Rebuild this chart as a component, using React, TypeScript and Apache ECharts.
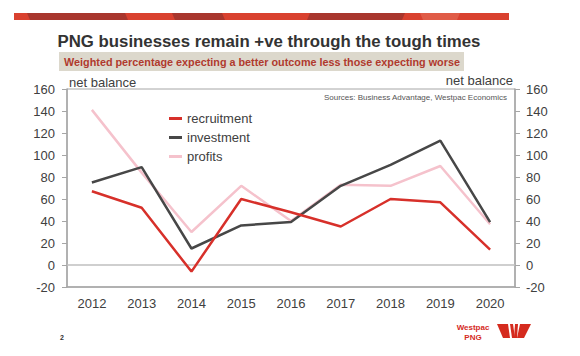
import React, { useEffect, useRef } from "react";
import * as echarts from "echarts";

const years = ["2012", "2013", "2014", "2015", "2016", "2017", "2018", "2019", "2020"];
const recruitment = [67, 52, -6, 60, 48, 35, 60, 57, 14];
const investment = [75, 89, 15, 36, 39, 72, 91, 113, 39];
const profits = [141, 84, 30, 72, 40, 73, 72, 90, 37];

const FONT = "'Liberation Sans', Arial, sans-serif";

export default function App() {
  const ref = useRef<HTMLDivElement>(null);
  useEffect(() => {
    if (!ref.current) return;
    const chart = echarts.init(ref.current, null, { renderer: "svg" });
    const axisLabel = { color: "#404040", fontSize: 13, fontFamily: FONT };
    const yBase = {
      type: "value",
      min: -20,
      max: 160,
      interval: 20,
      splitLine: { show: false },
      axisLine: { show: true, lineStyle: { color: "#a6a6a6", width: 1.5 } },
      axisTick: { show: true, length: 5, lineStyle: { color: "#a6a6a6" } },
    };
    chart.setOption({
      animation: false,
      backgroundColor: "#ffffff",
      textStyle: { fontFamily: FONT },
      grid: {
        left: 67,
        right: 65,
        top: 89,
        bottom: 69,
        show: true,
        borderColor: "#a6a6a6",
        borderWidth: 1,
      },
      legend: {
        orient: "vertical",
        left: 164,
        top: 107,
        itemWidth: 13,
        itemHeight: 3,
        itemGap: 6,
        icon: "rect",
        textStyle: { color: "#404040", fontSize: 13, fontFamily: FONT },
        data: ["recruitment", "investment", "profits"],
      },
      xAxis: {
        type: "category",
        data: years,
        boundaryGap: true,
        axisLine: { show: true, onZero: false, lineStyle: { color: "#a6a6a6", width: 1.5 } },
        axisTick: { show: false },
        axisLabel: { ...axisLabel, margin: 10 },
      },
      yAxis: [
        { ...yBase, position: "left", axisLabel: { ...axisLabel, margin: 12 } },
        { ...yBase, position: "right", axisLabel: { ...axisLabel, margin: 11 } },
      ],
      graphic: [
        { type: "rect", shape: { x: 14, y: 13, width: 495, height: 7 }, style: { fill: "#d9412f" } },
        { type: "polygon", shape: { points: [[27, 13], [125, 13], [128, 20], [30, 20]] }, style: { fill: "#a8362d" } },
        { type: "polygon", shape: { points: [[172, 13], [222, 13], [225, 20], [175, 20]] }, style: { fill: "#a8362d" } },
        { type: "polygon", shape: { points: [[310, 13], [405, 13], [402, 20], [307, 20]] }, style: { fill: "#a8362d" } },
        { type: "polygon", shape: { points: [[420, 13], [460, 13], [457, 20], [423, 20]] }, style: { fill: "#e05c47" } },
        {
          type: "text",
          x: 269,
          y: 41,
          style: {
            text: "PNG businesses remain +ve through the tough times",
            fill: "#333333",
            font: `bold 16.8px ${FONT}`,
            align: "center",
            verticalAlign: "middle",
          },
        },
        { type: "rect", shape: { x: 59, y: 52, width: 405, height: 19 }, style: { fill: "#dcd8cc" } },
        {
          type: "text",
          x: 262,
          y: 61.5,
          style: {
            text: "Weighted percentage expecting a better outcome less those expecting worse",
            fill: "#b03a2e",
            font: `bold 10.8px ${FONT}`,
            align: "center",
            verticalAlign: "middle",
          },
        },
        { type: "text", x: 69, y: 82, style: { text: "net balance", fill: "#404040", font: `13px ${FONT}`, verticalAlign: "middle" } },
        { type: "text", x: 513, y: 80, style: { text: "net balance", fill: "#404040", font: `13px ${FONT}`, align: "right", verticalAlign: "middle" } },
        {
          type: "text",
          x: 507,
          y: 97,
          style: { text: "Sources: Business Advantage, Westpac Economics", fill: "#555555", font: `8px ${FONT}`, align: "right", verticalAlign: "middle" },
        },
        { type: "text", x: 60, y: 337, style: { text: "2", fill: "#333333", font: `bold 7px ${FONT}`, verticalAlign: "middle" } },
        { type: "text", x: 473, y: 327, style: { text: "Westpac", fill: "#d52b1e", font: `bold 8px ${FONT}`, align: "center", verticalAlign: "middle" } },
        { type: "text", x: 473, y: 337, style: { text: "PNG", fill: "#d52b1e", font: `bold 8px ${FONT}`, align: "center", verticalAlign: "middle" } },
        { type: "polygon", shape: { points: [[497, 324], [508, 324], [510, 338], [503, 338]] }, style: { fill: "#d52b1e" } },
        { type: "polygon", shape: { points: [[510, 324], [513, 324], [515, 338], [512, 338]] }, style: { fill: "#d52b1e" } },
        { type: "polygon", shape: { points: [[515, 324], [518, 324], [517, 338], [514, 338]] }, style: { fill: "#d52b1e" } },
        { type: "polygon", shape: { points: [[520, 324], [531, 324], [524, 338], [517, 338]] }, style: { fill: "#d52b1e" } },
      ],
      series: [
        {
          name: "recruitment",
          type: "line",
          data: recruitment,
          symbol: "none",
          color: "#d7302a",
          lineStyle: { width: 2.5, color: "#d7302a" },
          z: 4,
          markLine: {
            silent: true,
            symbol: "none",
            label: { show: false },
            lineStyle: { color: "#bfbfbf", type: "solid", width: 1.5 },
            data: [{ yAxis: 0 }],
            z: 1,
          },
        },
        {
          name: "investment",
          type: "line",
          data: investment,
          symbol: "none",
          color: "#474747",
          lineStyle: { width: 2.5, color: "#474747" },
          z: 3,
        },
        {
          name: "profits",
          type: "line",
          data: profits,
          symbol: "none",
          color: "#f5c2cc",
          lineStyle: { width: 2.5, color: "#f5c2cc" },
          z: 2,
        },
      ],
    });
    return () => chart.dispose();
  }, []);
  return <div ref={ref} style={{ width: 580, height: 356, position: "absolute", left: 0, top: 0 }} />;
}
